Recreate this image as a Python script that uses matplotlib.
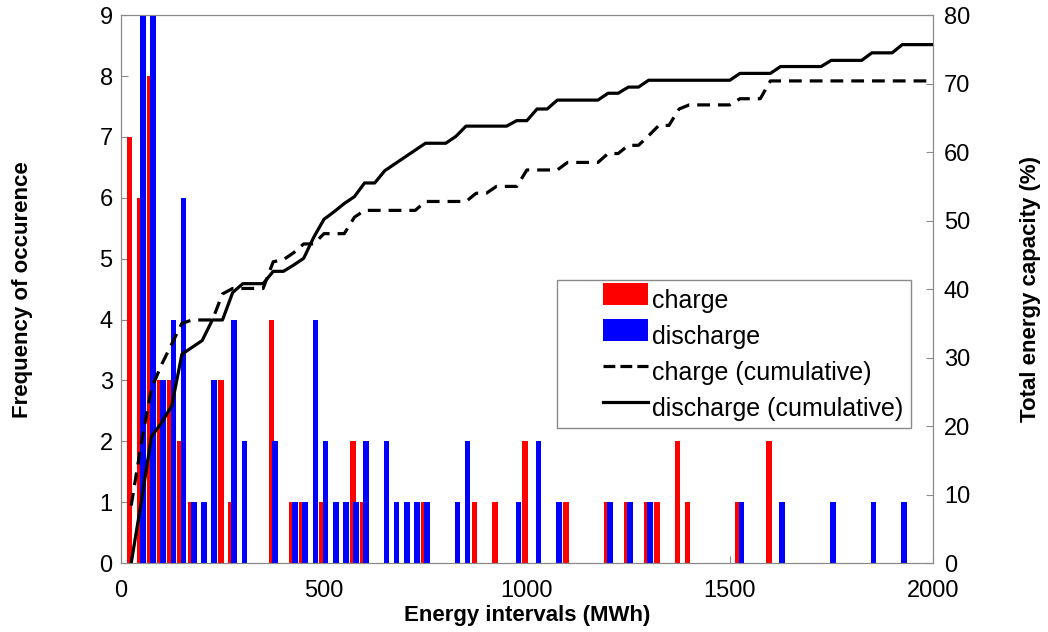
import numpy as np
import matplotlib.pyplot as plt
from matplotlib.patches import Patch, Rectangle
from matplotlib.lines import Line2D

plt.rcParams['font.family'] = ['Liberation Sans', 'DejaVu Sans']

# Data =============================================
bin_mwh = np.arange(25, 2001, 25)  # bin centres (MWh)

charge_freq = [7, 6, 8, 3, 3, 2, 1, 0, 0, 3,
               1, 0, 0, 0, 4, 0, 1, 1, 0, 1,
               0, 0, 2, 1, 0, 0, 0, 0, 0, 1,
               0, 0, 0, 0, 1, 0, 1, 0, 0, 2,
               0, 0, 0, 1, 0, 0, 0, 1, 0, 1,
               0, 1, 1, 0, 2, 1, 0, 0, 0, 0,
               1, 0, 0, 2, 0, 0, 0, 0, 0, 0,
               0, 0, 0, 0, 0, 0, 0, 0, 0, 0]

discharge_freq = [0, 9, 9, 3, 4, 6, 1, 1, 3, 0,
                  4, 2, 0, 0, 2, 0, 1, 1, 4, 2,
                  1, 1, 1, 2, 0, 2, 1, 1, 1, 1,
                  0, 0, 1, 2, 0, 0, 0, 0, 1, 0,
                  2, 0, 1, 0, 0, 0, 0, 1, 0, 1,
                  0, 1, 0, 0, 0, 0, 0, 0, 0, 0,
                  1, 0, 0, 0, 1, 0, 0, 0, 0, 1,
                  0, 0, 0, 1, 0, 0, 1, 0, 0, 0]

# cumulative curves (%), one value per bin
charge_cum = [8.4, 17.5, 25.5, 29.0, 32.0, 35.0, 35.5, 35.5, 35.5, 39.3,
              40.1, 40.1, 40.1, 40.1, 44.0, 44.3, 45.3, 46.6, 46.6, 48.1,
              48.1, 48.1, 50.5, 51.5, 51.5, 51.5, 51.5, 51.5, 51.5, 52.8,
              52.8, 52.8, 52.8, 52.8, 54.0, 54.0, 55.0, 55.0, 55.0, 57.4,
              57.4, 57.4, 57.4, 58.5, 58.5, 58.5, 58.5, 59.8, 59.8, 61.0,
              61.0, 62.4, 63.9, 63.9, 66.3, 66.9, 66.9, 66.9, 66.9, 66.9,
              67.8, 67.8, 67.8, 70.4, 70.4, 70.4, 70.4, 70.4, 70.4, 70.4,
              70.4, 70.4, 70.4, 70.4, 70.4, 70.4, 70.4, 70.4, 70.4, 70.4]

discharge_cum = [0.0, 9.0, 18.5, 20.5, 23.0, 30.5, 31.5, 32.5, 35.5, 35.5,
                 39.5, 40.8, 40.8, 40.8, 42.6, 42.6, 43.5, 44.5, 47.6, 50.2,
                 51.3, 52.5, 53.5, 55.5, 55.5, 57.3, 58.3, 59.3, 60.3, 61.3,
                 61.3, 61.3, 62.3, 63.8, 63.8, 63.8, 63.8, 63.8, 64.6, 64.6,
                 66.3, 66.3, 67.6, 67.6, 67.6, 67.6, 67.6, 68.6, 68.6, 69.5,
                 69.5, 70.5, 70.5, 70.5, 70.5, 70.5, 70.5, 70.5, 70.5, 70.5,
                 71.5, 71.5, 71.5, 71.5, 72.5, 72.5, 72.5, 72.5, 72.5, 73.4,
                 73.4, 73.4, 73.4, 74.5, 74.5, 74.5, 75.7, 75.7, 75.7, 75.7]

red = '#ff0000'
blue = '#0000ff'
edge = '#8a8a8a'
dash = (0, (4, 2.5))


# legend handles drawn in the right part of the handle box (matlab look)
class RightPatch:
    def legend_artist(self, legend, orig_handle, fontsize, handlebox):
        x0, y0 = handlebox.xdescent, handlebox.ydescent
        w, h = handlebox.width, handlebox.height
        p = Rectangle([x0 + 0.46 * w, y0], 0.54 * w, h,
                      facecolor=orig_handle.get_facecolor(), edgecolor='none',
                      transform=handlebox.get_transform())
        handlebox.add_artist(p)
        return p


class RightLine:
    def legend_artist(self, legend, orig_handle, fontsize, handlebox):
        x0, y0 = handlebox.xdescent, handlebox.ydescent
        w, h = handlebox.width, handlebox.height
        ln = Line2D([x0 + 0.46 * w, x0 + w], [y0 + h / 2, y0 + h / 2],
                    color='black', lw=orig_handle.get_linewidth(),
                    ls=orig_handle.get_linestyle(),
                    transform=handlebox.get_transform())
        handlebox.add_artist(ln)
        return ln


# Plot =============================================
fig = plt.figure(figsize=(10.48, 6.32), dpi=100)
ax = fig.add_axes([0.1155, 0.109, 0.7745, 0.867])

bar_w = 14
ax.bar(bin_mwh - 4, charge_freq, width=bar_w, color=red, zorder=2)
ax.bar(bin_mwh + 4, discharge_freq, width=bar_w, color=blue, zorder=3)
ax.set_xlim(0, 2000)
ax.set_ylim(0, 9)
ax.set_xticks([0, 500, 1000, 1500, 2000])
ax.set_yticks(range(0, 10))

ax2 = ax.twinx()
ax2.plot(bin_mwh, charge_cum, color='black', lw=2.3, ls=dash)
ax2.plot(bin_mwh, discharge_cum, color='black', lw=2.3)
ax2.set_ylim(0, 80)
ax2.set_yticks(range(0, 81, 10))

for a in (ax, ax2):
    for s in a.spines.values():
        s.set_color(edge)
    a.tick_params(direction='in', length=5, color=edge, labelsize=17,
                  labelcolor='black')
ax.tick_params(axis='x', pad=12)
ax.tick_params(axis='y', pad=6)
ax2.tick_params(axis='y', pad=8)

ax.set_xlabel('Energy intervals (MWh)', fontsize=16, fontweight='bold')
ax.set_ylabel('Frequency of occurence', fontsize=16, fontweight='bold')
ax2.set_ylabel('Total energy capacity (%)', fontsize=16, fontweight='bold')
ax.xaxis.set_label_coords(0.5, -0.077)
ax.yaxis.set_label_coords(-0.108, 0.5)
ax2.yaxis.set_label_coords(1.108, 0.5)

p_charge = Patch(facecolor=red)
p_dis = Patch(facecolor=blue)
l_charge = Line2D([], [], color='black', lw=2.3, ls=dash)
l_dis = Line2D([], [], color='black', lw=2.3)
labels = ['charge', 'discharge', 'charge (cumulative)', 'discharge (cumulative)']
leg = ax2.legend([p_charge, p_dis, l_charge, l_dis], labels,
                 handler_map={p_charge: RightPatch(), p_dis: RightPatch(),
                              l_charge: RightLine(), l_dis: RightLine()},
                 loc='upper left', bbox_to_anchor=(0.537, 0.516),
                 fontsize=18, fancybox=False, edgecolor=edge, framealpha=1,
                 handlelength=3.35, handleheight=1.0, handletextpad=0.15,
                 borderpad=0.3, labelspacing=0.45, borderaxespad=0)
leg.get_frame().set_linewidth(1.0)

fig.savefig('out.png', dpi=100)
